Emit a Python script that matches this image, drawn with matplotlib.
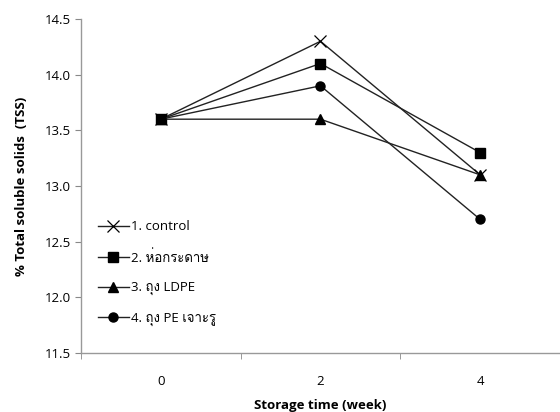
import matplotlib
matplotlib.use("Agg")
import matplotlib.pyplot as plt
from matplotlib import font_manager
from matplotlib.ft2font import FT2Font

# Data
weeks = ["0", "2", "4"]
control = [13.6, 14.3, 13.1]
paper_wrap = [13.6, 14.1, 13.3]
ldpe_bag = [13.6, 13.6, 13.1]
pe_holes = [13.6, 13.9, 12.7]
series_labels = ["1. control", "2. ห่อกระดาษ", "3. ถุง LDPE", "4. ถุง PE เจาะรู"]
y_ticks = [11.5, 12.0, 12.5, 13.0, 13.5, 14.0, 14.5]


def find_thai_family():
    for fe in font_manager.fontManager.ttflist:
        try:
            cmap = FT2Font(fe.fname).get_charmap()
        except Exception:
            continue
        if 0x0E2B in cmap and 0x0E16 in cmap:
            return fe.name
    return None


thai = find_thai_family()
base = ["Open Sans", "DejaVu Sans"]
families = ([base[0], thai] + base[1:]) if thai else base
plt.rcParams["font.family"] = families

fig = plt.figure(figsize=(5.6, 4.12), dpi=100)
ax = fig.add_axes([0.1446, 0.1432, 0.8554, 0.8107])

x = list(range(len(weeks)))
styles = [("x", 8), ("s", 6.5), ("^", 6.5), ("o", 6.5)]
for vals, lab, (m, ms) in zip([control, paper_wrap, ldpe_bag, pe_holes], series_labels, styles):
    ax.plot(x, vals, color="#222222", lw=1.0, marker=m, ms=ms,
            mfc="black", mec="black", mew=1.0 if m != "x" else 0.9, label=lab)

ax.set_xlim(-0.5, 2.5)
ax.set_ylim(11.5, 14.5)
ax.set_yticks(y_ticks)
ax.set_yticklabels([f"{v:.1f}" for v in y_ticks], fontsize=9.5)
ax.set_xticks(x)
ax.set_xticklabels(weeks, fontsize=9.5)
ax.set_xticks([-0.5, 0.5, 1.5, 2.5], minor=True)
ax.tick_params(axis="x", which="major", length=0, pad=16)
ax.tick_params(axis="x", which="minor", length=4, direction="out", color="#888888")
ax.tick_params(axis="y", length=4, direction="out", color="#888888", pad=3)

for s in ["top", "right"]:
    ax.spines[s].set_visible(False)
for s in ["left", "bottom"]:
    ax.spines[s].set_color("#999999")
    ax.spines[s].set_linewidth(1.0)

ax.set_xlabel("Storage time (week)", fontsize=9.5, fontweight="bold", labelpad=8)
ax.set_ylabel("% Total soluble solids  (TSS)", fontsize=9.5, fontweight="bold", labelpad=12)

leg = ax.legend(loc="lower left", bbox_to_anchor=(0.01, 0.045), frameon=False,
                fontsize=9.5, handlelength=2.4, handletextpad=0.15,
                labelspacing=1.25, borderaxespad=0.5)

fig.savefig("out.png", dpi=100, facecolor="white")
